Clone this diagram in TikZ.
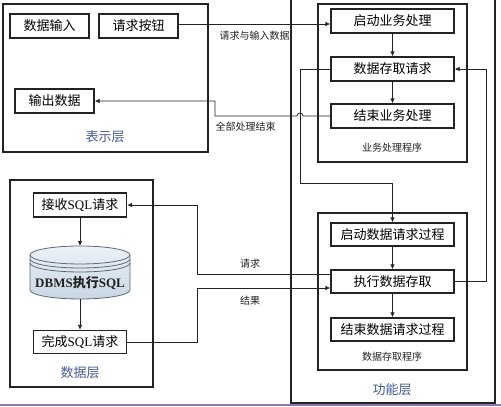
\documentclass[tikz,border=0pt]{standalone}
\usepackage{fontspec}
\setmainfont{Noto Sans CJK SC}
\newfontfamily\lat{Liberation Serif}
\usetikzlibrary{arrows.meta}
\definecolor{lblue}{RGB}{70,90,150}
\definecolor{lnc}{RGB}{35,35,35}
\definecolor{cylA}{RGB}{236,242,248}
\definecolor{cylB}{RGB}{200,214,228}
\definecolor{cylE}{RGB}{95,105,115}
\definecolor{purp}{RGB}{140,120,170}
\tikzset{
  box/.style={draw=lnc,line width=1.3pt,fill=white,minimum width=123pt,minimum height=24pt,inner sep=0pt,font=\fontsize{13}{15}\selectfont},
  sqlbox/.style={box,minimum width=93pt},
  frame/.style={draw=lnc,line width=1.3pt},
  conn/.style={draw=lnc,line width=0.8pt},
  arr/.style={conn,-{Latex[length=5pt,width=4.5pt]}},
  small/.style={font=\fontsize{10}{12}\selectfont,text=lnc},
  layer/.style={font=\fontsize{13}{15}\selectfont,text=lblue},
}
\begin{document}
\begin{tikzpicture}[x=1pt,y=-1pt]
\useasboundingbox (0,0) rectangle (501,407);
\fill[white] (0,0) rectangle (501,407);
% outer frames
\draw[frame] (3,4) rectangle (208,152);
\draw[frame] (291,-5) rectangle (495,403);
\draw[frame] (318,4) rectangle (467,162);
\draw[frame] (318,213) rectangle (467,370);
\draw[frame] (10,180) rectangle (153,387);
\draw[purp,line width=1.4pt] (0,405) -- (501,405);
% layer labels
\node[layer] (lp) at (105,137) {表示层};
\node[layer] (lf) at (392,390) {功能层};
\node[layer] (ld) at (80,373) {数据层};
\node[small] (lbiz) at (392,148) {业务处理程序};
\node[small] (lacc) at (392,357) {数据存取程序};
% presentation layer
\node[box,minimum width=79pt] (in1) at (49.5,26) {数据输入};
\node[box,minimum width=79pt] (btn) at (138.5,26) {请求按钮};
\node[box,minimum width=79pt] (out) at (54.5,101) {输出数据};
% business process
\node[box] (start1) at (392.5,21) {启动业务处理};
\node[box] (req) at (392.5,69) {数据存取请求};
\node[box] (end1) at (392.5,116) {结束业务处理};
% data access
\node[box,minimum height=23pt] (start2) at (392.5,234.5) {启动数据请求过程};
\node[box,minimum height=23pt] (exec) at (392.5,281.5) {执行数据存取};
\node[box,minimum height=23pt] (end2) at (392.5,329.5) {结束数据请求过程};
% data layer
\node[sqlbox] (recv) at (80,205) {接收{\lat SQL}请求};
\node[sqlbox,minimum height=23pt] (done) at (80,342) {完成{\lat SQL}请求};
% cylinder
\path[draw=cylE,line width=0.8pt,top color=cylA,bottom color=cylB]
  (30,255) -- (30,290) arc[start angle=180,end angle=360,x radius=50pt,y radius=9pt]
  -- (130,255) arc[start angle=0,end angle=180,x radius=50pt,y radius=9pt] -- cycle;
\draw[cylE,line width=0.8pt] (30,255) arc[start angle=180,end angle=360,x radius=50pt,y radius=9pt];
\draw[cylE,line width=0.8pt] (30,259) arc[start angle=180,end angle=360,x radius=50pt,y radius=9pt];
\draw[cylE,line width=0.8pt] (30,263) arc[start angle=180,end angle=360,x radius=50pt,y radius=9pt];
\node[inner sep=0pt,font=\fontsize{13}{15}\selectfont\bfseries,text=lnc] (db) at (80,283) {{\lat\bfseries DBMS}执行{\lat\bfseries SQL}};
\coordinate (cyltop) at (80,246);
\coordinate (cylbot) at (80,299);
% connectors
\draw[arr] ([yshift=2pt]btn.east) -- ([yshift=2pt]btn.east -| start1.west);
\node[small,anchor=west] (l1) at (216,36) {请求与输入数据};
\draw[arr] (start1) -- (req);
\draw[arr] (req) -- (end1);
\draw[arr] (end1.west) -- (303,116) arc[start angle=0,end angle=180,radius=3pt] -- (215,116) |- (out.east);
\node[small,anchor=west] (l2) at (212,127) {全部处理结束};
\coordinate (r1) at (300,183);
\draw[arr] (req.west) -| (r1) -| (start2.north);
\draw[arr] (exec.east) -| (486,69) -- (req.east);
\draw[arr] (start2) -- (exec);
\draw[arr] (exec) -- (end2);
\draw[arr] ([yshift=7.5pt]exec.west) -| (197,205) -- (recv.east);
\draw[arr] (done.east) -| (197,288) -- ([yshift=-6.5pt]exec.west);
\node[small] (l3) at (250,264) {请求};
\node[small] (l4) at (250,301) {结果};
\draw[arr] (recv.south) -- (cyltop);
\draw[arr] (cylbot) -- (done.north);
\end{tikzpicture}
\end{document}
